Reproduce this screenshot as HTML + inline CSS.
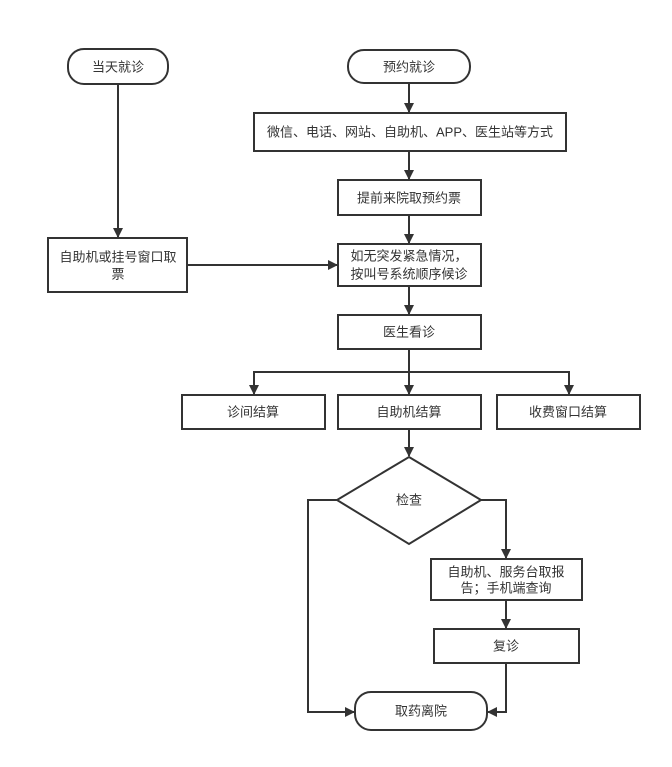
<!DOCTYPE html>
<html><head><meta charset="utf-8"><style>
body{margin:0;background:#fff}
svg text{font-family:"Liberation Sans","Noto Sans CJK SC",sans-serif;font-size:13px;fill:#333;text-anchor:middle;dominant-baseline:central}
</style></head><body>
<svg width="672" height="762" viewBox="0 0 672 762" xmlns="http://www.w3.org/2000/svg">
<defs><marker id="a" markerWidth="10" markerHeight="10" refX="9" refY="5" orient="auto" markerUnits="userSpaceOnUse"><path d="M0,0 L10,5 L0,10 Z" fill="#333"/></marker></defs>
<g fill="none" stroke="#333" stroke-width="2">
<rect x="68" y="49" width="100" height="35" rx="16"/>
<rect x="348" y="50" width="122" height="33" rx="16"/>
<rect x="254" y="113" width="312" height="38"/>
<rect x="338" y="180" width="143" height="35"/>
<rect x="338" y="244" width="143" height="42"/>
<rect x="48" y="238" width="139" height="54"/>
<rect x="338" y="315" width="143" height="34"/>
<rect x="182" y="395" width="143" height="34"/>
<rect x="338" y="395" width="143" height="34"/>
<rect x="497" y="395" width="143" height="34"/>
<polygon points="409,457 481,500 409,544 337,500"/>
<rect x="431" y="559" width="151" height="41"/>
<rect x="434" y="629" width="145" height="34"/>
<rect x="355" y="692" width="132" height="38" rx="16"/>
<g marker-end="url(#a)">
<line x1="118" y1="84" x2="118" y2="237"/>
<line x1="409" y1="83" x2="409" y2="112"/>
<line x1="409" y1="151" x2="409" y2="179"/>
<line x1="409" y1="215" x2="409" y2="243"/>
<line x1="187" y1="265" x2="337" y2="265"/>
<line x1="409" y1="286" x2="409" y2="314"/>
<line x1="409" y1="349" x2="409" y2="394"/>
<polyline points="409,372 254,372 254,394"/>
<polyline points="409,372 569,372 569,394"/>
<line x1="409" y1="429" x2="409" y2="456"/>
<polyline points="337,500 308,500 308,712 354,712"/>
<polyline points="481,500 506,500 506,558"/>
<line x1="506" y1="600" x2="506" y2="628"/>
<polyline points="506,663 506,712 488,712"/>
</g></g>
<text x="118" y="67">当天就诊</text>
<text x="409" y="67">预约就诊</text>
<text x="410" y="132">微信、电话、网站、自助机、APP、医生站等方式</text>
<text x="409" y="198">提前来院取预约票</text>
<text x="409" y="256">如无突发紧急情况，</text>
<text x="409" y="274">按叫号系统顺序候诊</text>
<text x="118" y="257">自助机或挂号窗口取</text>
<text x="118" y="274">票</text>
<text x="409" y="332">医生看诊</text>
<text x="253" y="412">诊间结算</text>
<text x="409" y="412">自助机结算</text>
<text x="568" y="412">收费窗口结算</text>
<text x="409" y="500">检查</text>
<text x="506" y="572">自助机、服务台取报</text>
<text x="506" y="588">告；手机端查询</text>
<text x="506" y="646">复诊</text>
<text x="421" y="711">取药离院</text>
</svg>
</body></html>
